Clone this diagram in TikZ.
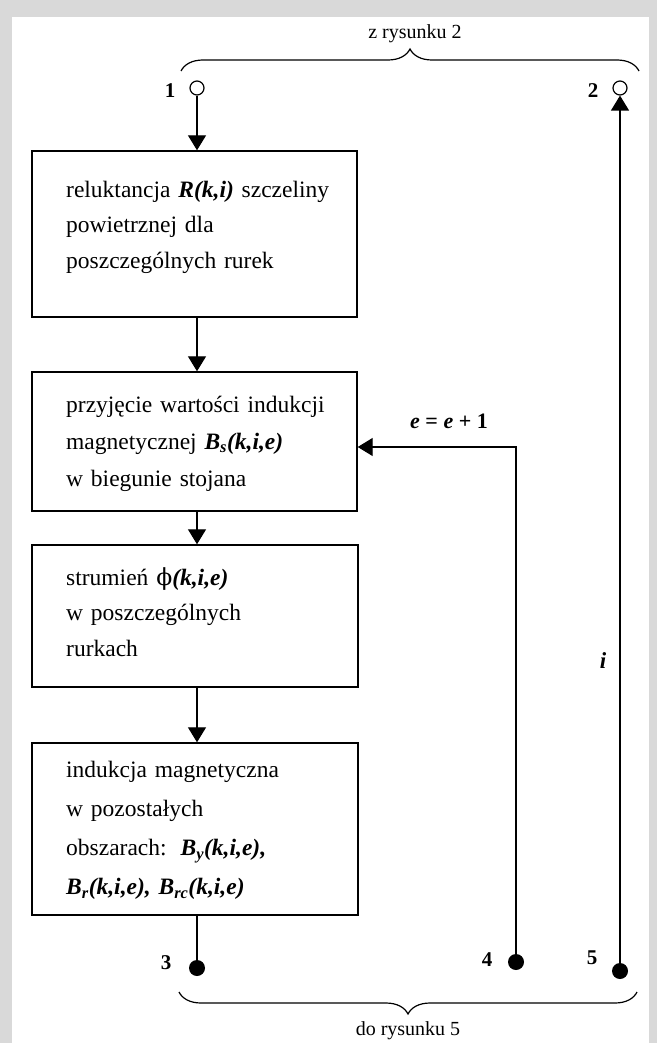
\documentclass[tikz,border=0pt]{standalone}
\usepackage{fontspec}
\setmainfont{Liberation Serif}
\newfontfamily\phifont{DejaVu Serif}
\usetikzlibrary{arrows.meta,decorations.pathreplacing,calc}
\definecolor{framegray}{HTML}{D9D9D9}
\newcommand\mbi[1]{\textbf{\textit{#1}}}
\begin{document}
\begin{tikzpicture}[x=1pt,y=-1pt,
  lw/.style={line width=1.2pt},
  box/.style={draw,line width=1.4pt,rectangle,inner sep=0pt},
  txt/.style={anchor=base west,inner sep=0pt,text width=285pt,align=left,font=\fontsize{23.5}{#1}\selectfont},
  arr/.style={lw,-{Triangle[length=15pt,width=18pt]}},
  opendot/.style={circle,draw,lw,fill=white,minimum size=14pt,inner sep=0pt},
  fulldot/.style={circle,fill=black,minimum size=16pt,inner sep=0pt},
  num/.style={anchor=base,inner sep=0pt,font=\fontsize{21}{21}\selectfont\bfseries},
  lab/.style={anchor=base,inner sep=0pt,font=\fontsize{20}{20}\selectfont},
  brc/.style={lw,decorate,decoration={brace,amplitude=22pt}}
]
\useasboundingbox (0,0) rectangle (657,1043);
\fill[framegray] (0,0) rectangle (657,1043);
\fill[white] (12,17) rectangle (649,1043);

% boxes
\node[box,minimum width=325pt,minimum height=166pt] (b1) at (194.5,234) {};
\node[box,minimum width=325pt,minimum height=139pt] (b2) at (194.5,441.5) {};
\node[box,minimum width=326pt,minimum height=142pt] (b3) at (195,616) {};
\node[box,minimum width=326pt,minimum height=172pt] (b4) at (195,829) {};

% box texts
\node[txt=35.5] (t1) at (66,197) {reluktancja \mbi{R(k,i)} szczeliny\\powietrznej dla\\poszczególnych rurek};
\node[txt=37] (t2) at (66,412) {przyjęcie wartości indukcji\\magnetycznej \mbi{B\textsubscript{s}(k,i,e)}\\w biegunie stojana};
\node[txt=35.5] (t3) at (66,585) {strumień {\phifont ϕ}\mbi{(k,i,e)}\\w poszczególnych\\rurkach};
\node[txt=39.3] (t4) at (66,777) {indukcja magnetyczna\\w pozostałych\\obszarach:\hspace{14pt}\mbi{B\textsubscript{y}(k,i,e),}\\\mbi{B\textsubscript{r}(k,i,e), B\textsubscript{rc}(k,i,e)}};

% terminals
\node[opendot] (c1) at (197,88) {};
\node[opendot] (c2) at (620,88) {};
\node[fulldot] (c3) at (197,968) {};
\node[fulldot] (c4) at (516,962) {};
\node[fulldot] (c5) at (620,971) {};
\node[num] (n1) at (170,98) {1};
\node[num] (n2) at (593,98) {2};
\node[num] (n3) at (166,969) {3};
\node[num] (n4) at (487,966) {4};
\node[num] (n5) at (592,964) {5};

% connectors
\draw[arr] (c1) -- (c1 |- b1.north);
\draw[arr] (b1.south -| c1) -- (b2.north -| c1);
\draw[arr] (b2.south -| c1) -- (b3.north -| c1);
\draw[arr] (b3.south -| c1) -- (b4.north -| c1);
\draw[lw] (b4.south -| c3) -- (c3);
\draw[arr] (c4) |- ($(b2.east)+(0,5.5)$);
\draw[arr] (c5) -- (c2);

% labels
\node[anchor=base,inner sep=0pt,font=\fontsize{22}{22}\selectfont] (eq) at (449,428) {\mbi{e} \textbf{=} \mbi{e} \textbf{+} \textbf{1}};
\node[anchor=base,inner sep=0pt,font=\fontsize{23}{23}\selectfont] (il) at (603,668) {\mbi{i}};

% braces
\coordinate (tl) at (181,71);
\coordinate (tr) at (639,71);
\coordinate (bl) at (179,992);
\coordinate (br) at (637,992);
\draw[brc] (tl) -- (tr);
\draw[brc] (br) -- (bl);
\node[lab] (zr) at (415,39) {z rysunku 2};
\node[lab] (dr) at (408,1035) {do rysunku 5};
\end{tikzpicture}
\end{document}
